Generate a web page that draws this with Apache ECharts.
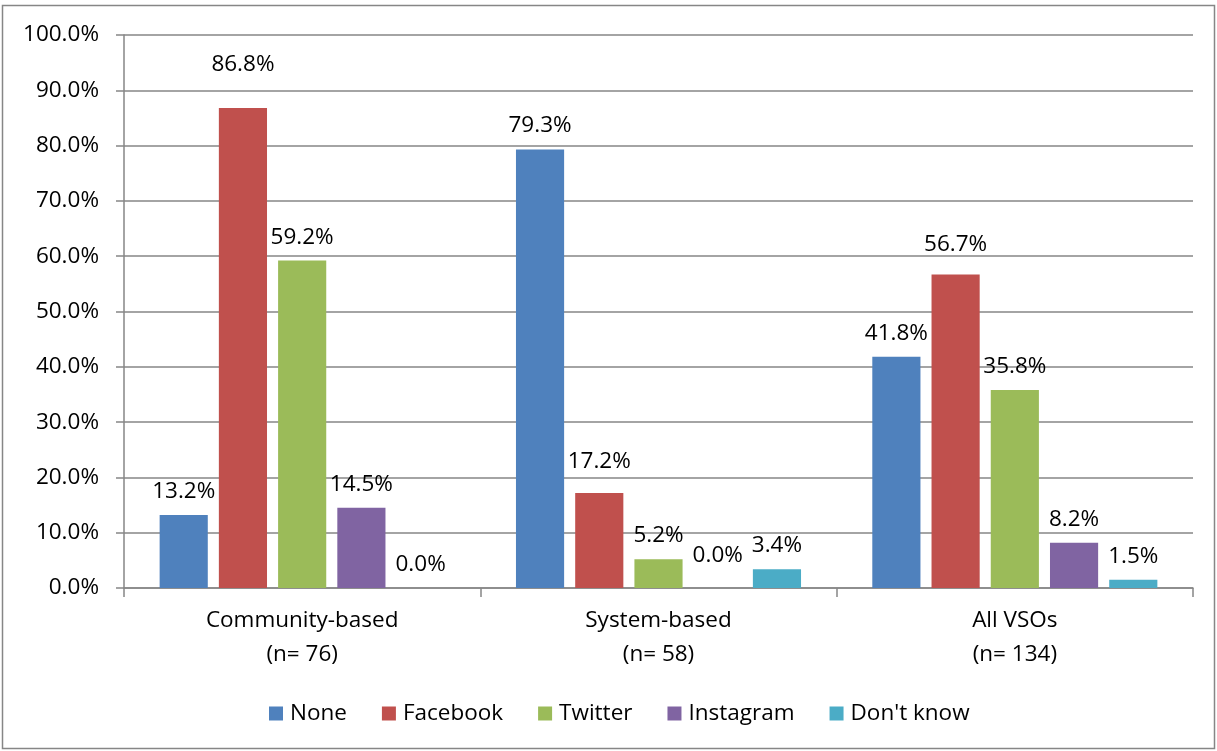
<!DOCTYPE html>
<html>
<head>
<meta charset="utf-8">
<script src="https://cdn.jsdelivr.net/npm/echarts@6/dist/echarts.min.js"></script>
<style>
  html, body { margin: 0; padding: 0; background: #ffffff; }
  #chart { width: 1217px; height: 751px; }
</style>
</head>
<body>
<div id="chart"></div>
<script>
// Social media platforms used by VSOs, share of organisations (%)
const categories = ['Community-based\n(n= 76)', 'System-based\n(n= 58)', 'All VSOs\n(n= 134)'];
const seriesNames = ['None', 'Facebook', 'Twitter', 'Instagram', "Don't know"];
const noneValues = [13.2, 79.3, 41.8];
const facebookValues = [86.8, 17.2, 56.7];
const twitterValues = [59.2, 5.2, 35.8];
const instagramValues = [14.5, 0.0, 8.2];
const dontKnowValues = [0.0, 3.4, 1.5];
const yTicks = [0, 10, 20, 30, 40, 50, 60, 70, 80, 90, 100];

const seriesValues = [noneValues, facebookValues, twitterValues, instagramValues, dontKnowValues];
const colors = ['#4F81BD', '#C0504D', '#9BBB59', '#8064A2', '#4BACC6'];
const FONT = '"Open Sans", "Liberation Sans", sans-serif';
const FS = 22.5;

// extra lift (px) for a few value labels, keyed "series:category"
const labelLift = { '1:0': 20, '1:1': 8, '1:2': 6, '3:1': 9 };

const chart = echarts.init(document.getElementById('chart'), null, { renderer: 'canvas' });

const series = seriesNames.map((name, si) => ({
  name,
  type: 'bar',
  barGap: '23%',
  barCategoryGap: '20%',
  itemStyle: { color: colors[si] },
  label: {
    show: true,
    position: 'top',
    distance: 12,
    color: '#000',
    fontFamily: FONT,
    fontSize: FS,
    formatter: p => p.value.toFixed(1) + '%'
  },
  data: seriesValues[si].map((v, ci) => {
    const lift = labelLift[si + ':' + ci];
    return lift ? { value: v, label: { offset: [0, -lift] } } : v;
  })
}));

chart.setOption({
  animation: false,
  backgroundColor: '#ffffff',
  textStyle: { fontFamily: FONT },
  graphic: [{
    type: 'rect',
    shape: { x: 2.5, y: 5.5, width: 1212, height: 743 },
    style: { fill: 'none', stroke: '#868686', lineWidth: 1.5 },
    silent: true
  }],
  grid: { left: 124, right: 24, top: 35, bottom: 163, containLabel: false },
  legend: {
    data: seriesNames,
    top: 697,
    left: 264,
    itemWidth: 14,
    itemHeight: 14,
    itemGap: 35,
    icon: 'rect',
    textStyle: { fontFamily: FONT, fontSize: FS, color: '#000', padding: [0, 0, 0, 2] }
  },
  xAxis: {
    type: 'category',
    data: categories,
    axisLine: { lineStyle: { color: '#868686', width: 1.5 } },
    axisTick: { show: true, length: 9, alignWithLabel: false, interval: 0, lineStyle: { color: '#868686', width: 1.5 } },
    axisLabel: {
      interval: 0,
      color: '#000',
      fontFamily: FONT,
      fontSize: FS,
      lineHeight: 34,
      margin: 16
    }
  },
  yAxis: {
    type: 'value',
    min: yTicks[0],
    max: yTicks[yTicks.length - 1],
    interval: yTicks[1] - yTicks[0],
    axisLine: { show: true, lineStyle: { color: '#868686', width: 1.5 } },
    axisTick: { show: true, length: 8, lineStyle: { color: '#868686', width: 1.5 } },
    splitLine: { lineStyle: { color: '#868686', width: 1.5 } },
    axisLabel: {
      color: '#000',
      fontFamily: FONT,
      fontSize: FS,
      margin: 25,
      formatter: v => v.toFixed(1) + '%'
    }
  },
  series
});
</script>
</body>
</html>
